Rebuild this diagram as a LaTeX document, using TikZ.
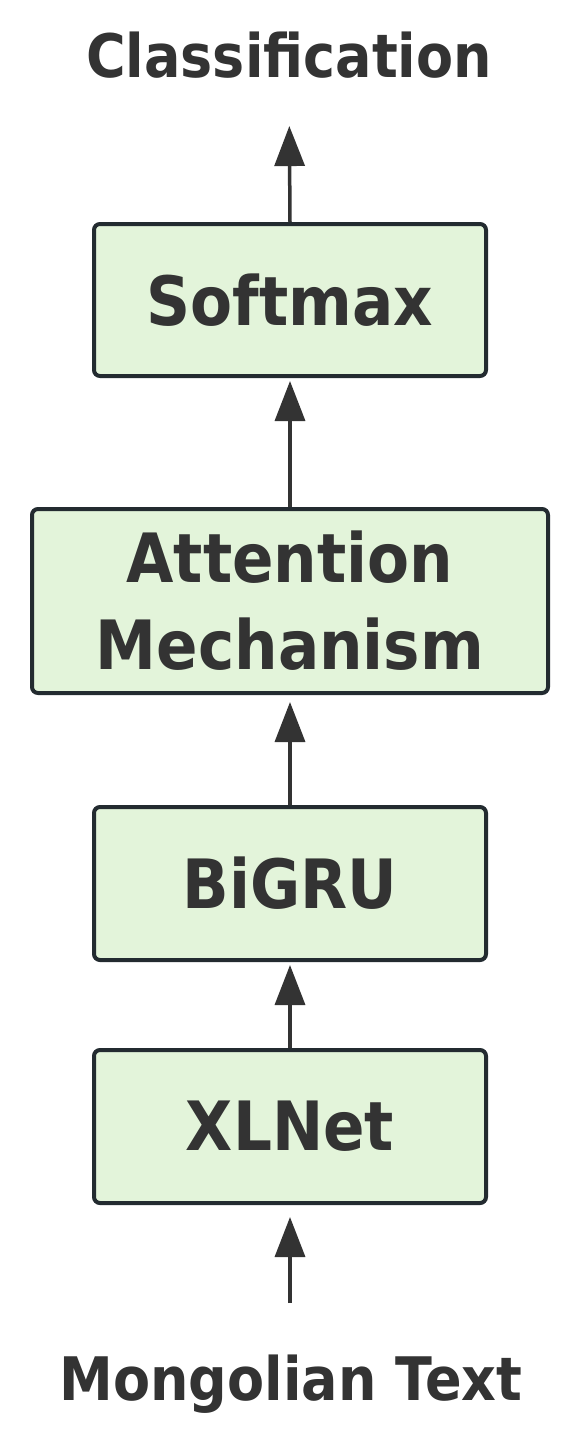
\documentclass[tikz,border=0pt]{standalone}
\usepackage{fontspec}
\newfontfamily\lblfont{DejaVu Sans}[FakeStretch=0.9]
\usetikzlibrary{arrows.meta}
\definecolor{boxfill}{HTML}{E3F4DA}
\definecolor{boxline}{HTML}{232B30}
\definecolor{txt}{HTML}{333333}
\begin{document}
\begin{tikzpicture}[x=1pt,y=-1pt,
  layer/.style={draw=boxline, fill=boxfill, line width=4pt, rounded corners=6pt,
    text=txt, font=\lblfont\bfseries\fontsize{68}{87}\selectfont, align=center, inner sep=0pt},
  outertext/.style={text=txt, font=\lblfont\bfseries\fontsize{60}{72}\selectfont, inner sep=0pt, anchor=base},
  flow/.style={draw=txt, line width=3.5pt, -{Triangle[length=40pt,width=30pt]}}]
\useasboundingbox (0,0) rectangle (572,1454);
\fill[white] (0,0) rectangle (572,1454);
\node[outertext] (cls) at (289,77) {Classification};
\node[layer, minimum width=392pt, minimum height=152pt] (soft) at (290,300) {Softmax};
\node[layer, minimum width=516pt, minimum height=184pt] (att) at (290,601) {Attention\\Mechanism};
\node[layer, minimum width=392pt, minimum height=153pt] (bi) at (290,883.5) {BiGRU};
\node[layer, minimum width=392pt, minimum height=153pt] (xl) at (290,1126.5) {XLNet};
\node[outertext] (mon) at (291,1400) {Mongolian Text};
\coordinate (inp) at (290,1303);
\draw[flow, shorten >=12pt] (inp) -- (xl.south);
\draw[flow, shorten >=3pt] (xl.north) -- (bi.south);
\draw[flow, shorten >=7pt] (bi.north) -- (att.south);
\draw[flow, shorten >=3pt] (att.north) -- (soft.south);
\draw[flow, shorten >=48pt] (soft.north) -- (cls.south);
\end{tikzpicture}
\end{document}
